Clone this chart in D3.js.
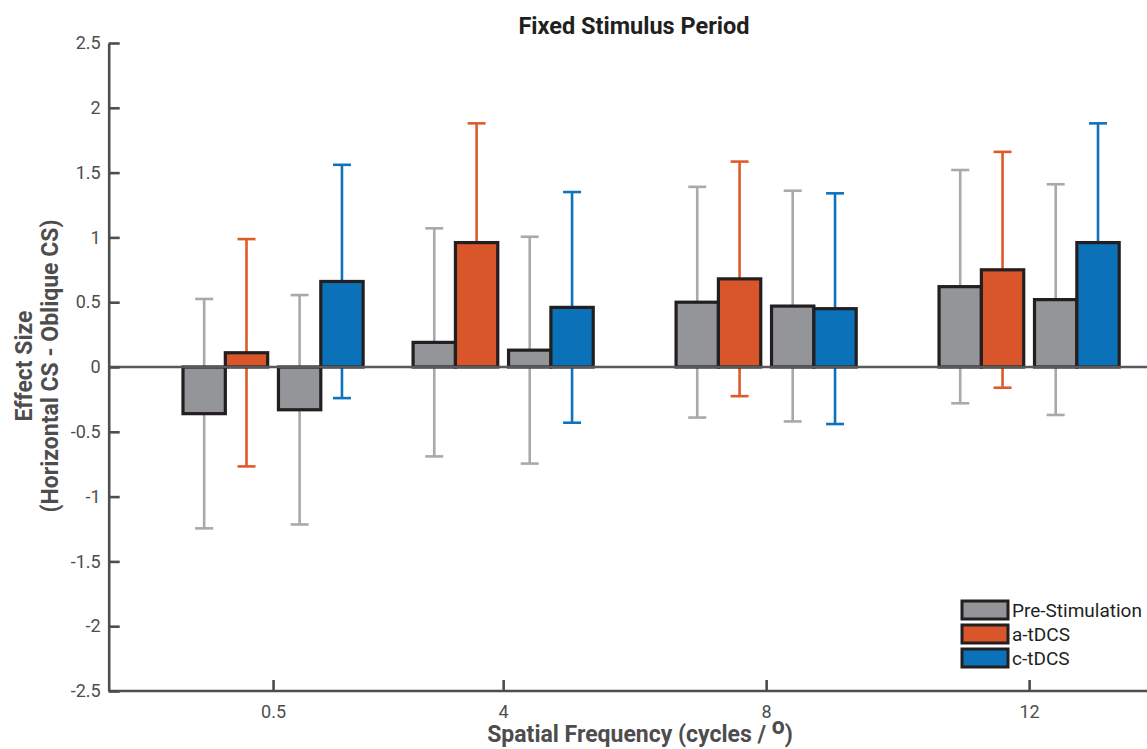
<!DOCTYPE html>
<html>
<head>
<meta charset="utf-8">
<script src="https://cdn.jsdelivr.net/npm/d3@7"></script>
<style>
  html, body { margin: 0; padding: 0; background: #fff; }
  svg { display: block; font-family: Roboto, "Noto Sans", sans-serif; }
</style>
</head>
<body>
<div id="chart"></div>
<script>
/* ═══ Fixed Stimulus Period — grouped bars with error bars ═══ */

const freqs = [0.5, 4, 8, 12];
const yTicks = [-2.5, -2, -1.5, -1, -0.5, 0, 0.5, 1, 1.5, 2, 2.5];
const legendLabels = ['Pre-Stimulation', 'a-tDCS', 'c-tDCS'];

// bar heights (effect size), one per frequency
const preA  = [-0.36, 0.19, 0.50, 0.62];   // pre-stimulation paired with a-tDCS
const aTDCS = [0.11, 0.96, 0.68, 0.75];
const preC  = [-0.33, 0.13, 0.47, 0.52];   // pre-stimulation paired with c-tDCS
const cTDCS = [0.66, 0.46, 0.45, 0.96];

// error bar half widths
const preAErr  = [0.885, 0.88, 0.89, 0.90];
const aTDCSErr = [0.877, 0.92, 0.905, 0.91];
const preCErr  = [0.885, 0.875, 0.89, 0.89];
const cTDCSErr = [0.90, 0.89, 0.89, 0.92];

const FILL = { pre: '#939598', a: '#d9552a', c: '#0b72b9' };
const ERR  = { pre: '#a7a9ac', a: '#df5a2b', c: '#0d74bc' };

const W = 1147, H = 749;
const PAIR = 0.726, BARW = 0.644;   // in x-data units

const x = d3.scaleLinear().domain([-2, 14]).range([108.7, 1160.6]);
const y = d3.scaleLinear().domain([-2.5, 2.5]).range([691, 43]);

// flatten into bar records
const bars = [];
freqs.forEach((f, i) => {
  bars.push({ f, key: 'pre', v: preA[i],  e: preAErr[i],  cx: f - PAIR - BARW / 2 });
  bars.push({ f, key: 'a',   v: aTDCS[i], e: aTDCSErr[i], cx: f - PAIR + BARW / 2 });
  bars.push({ f, key: 'pre', v: preC[i],  e: preCErr[i],  cx: f + PAIR - BARW / 2 });
  bars.push({ f, key: 'c',   v: cTDCS[i], e: cTDCSErr[i], cx: f + PAIR + BARW / 2 });
});

const svg = d3.select('#chart').append('svg')
  .attr('width', W).attr('height', H);

// ── Error bars (behind the bars) ──
const capHalf = 9;
const eg = svg.append('g').attr('class', 'errors');
const eb = eg.selectAll('g').data(bars).join('g')
  .attr('stroke', d => ERR[d.key]).attr('stroke-width', 2.6);
eb.append('line')
  .attr('x1', d => x(d.cx)).attr('x2', d => x(d.cx))
  .attr('y1', d => y(d.v + d.e)).attr('y2', d => y(d.v - d.e));
eb.append('line')
  .attr('x1', d => x(d.cx) - capHalf).attr('x2', d => x(d.cx) + capHalf)
  .attr('y1', d => y(d.v + d.e)).attr('y2', d => y(d.v + d.e));
eb.append('line')
  .attr('x1', d => x(d.cx) - capHalf).attr('x2', d => x(d.cx) + capHalf)
  .attr('y1', d => y(d.v - d.e)).attr('y2', d => y(d.v - d.e));

// ── Bars ──
svg.append('g').selectAll('rect').data(bars).join('rect')
  .attr('x', d => x(d.cx - BARW / 2))
  .attr('width', d => x(d.cx + BARW / 2) - x(d.cx - BARW / 2))
  .attr('y', d => y(Math.max(0, d.v)))
  .attr('height', d => Math.abs(y(d.v) - y(0)))
  .attr('fill', d => FILL[d.key])
  .attr('stroke', '#231f20').attr('stroke-width', 3.2);

// ── Zero baseline ──
svg.append('line')
  .attr('x1', x(-2)).attr('x2', W)
  .attr('y1', y(0)).attr('y2', y(0))
  .attr('stroke', '#58595b').attr('stroke-width', 2.6);

// ── Axes ──
const yAxis = svg.append('g')
  .attr('transform', `translate(${x(-2)},0)`)
  .call(d3.axisLeft(y).tickValues(yTicks).tickSizeInner(-11).tickSizeOuter(0)
    .tickPadding(8).tickFormat(d => String(d)));
const xAxis = svg.append('g')
  .attr('transform', `translate(0,${y(-2.5)})`)
  .call(d3.axisBottom(x).tickValues(freqs).tickSizeInner(-11).tickSizeOuter(0)
    .tickPadding(14).tickFormat(d => String(d)));

[yAxis, xAxis].forEach(a => {
  a.select('.domain').attr('stroke', '#4d4d4d').attr('stroke-width', 2.6);
  a.selectAll('.tick line').attr('stroke', '#4d4d4d').attr('stroke-width', 2.6);
  a.selectAll('.tick text').attr('fill', '#4d4d4d').attr('font-size', '18px')
    .attr('font-family', 'Roboto, sans-serif');
});
// x axis line runs to the right edge
xAxis.select('.domain').attr('d', `M${x(-2)},0H${W}`);

// ── Title & labels ──
svg.append('text')
  .attr('x', 634).attr('y', 34)
  .attr('text-anchor', 'middle')
  .attr('font-size', '23.5px').attr('font-weight', 700).attr('fill', '#231f20')
  .text('Fixed Stimulus Period');

const xl = svg.append('text')
  .attr('x', 640).attr('y', 742)
  .attr('text-anchor', 'middle')
  .attr('font-size', '23px').attr('font-weight', 700).attr('fill', '#4d4d4d');
xl.append('tspan').text('Spatial Frequency (cycles / ');
xl.append('tspan').attr('dy', -8).text('o');
xl.append('tspan').attr('dy', 8).text(')');

const yl = svg.append('text')
  .attr('transform', 'rotate(-90)')
  .attr('text-anchor', 'middle')
  .attr('font-size', '23px').attr('font-weight', 700).attr('fill', '#4d4d4d');
yl.append('tspan').attr('x', -366).attr('y', 32).text('Effect Size');
yl.append('tspan').attr('x', -366).attr('y', 58).text('(Horizontal CS - Oblique CS)');

// ── Legend ──
const legKeys = ['pre', 'a', 'c'];
const leg = svg.append('g').attr('transform', 'translate(962,601)');
const li = leg.selectAll('g').data(legendLabels).join('g')
  .attr('transform', (d, i) => `translate(0,${i * 24})`);
li.append('rect')
  .attr('width', 46).attr('height', 18)
  .attr('fill', (d, i) => FILL[legKeys[i]])
  .attr('stroke', '#231f20').attr('stroke-width', 3);
li.append('text')
  .attr('x', 50).attr('y', 9).attr('dy', '0.35em')
  .attr('font-size', '19px').attr('fill', '#231f20')
  .text(d => d);
</script>
</body>
</html>
